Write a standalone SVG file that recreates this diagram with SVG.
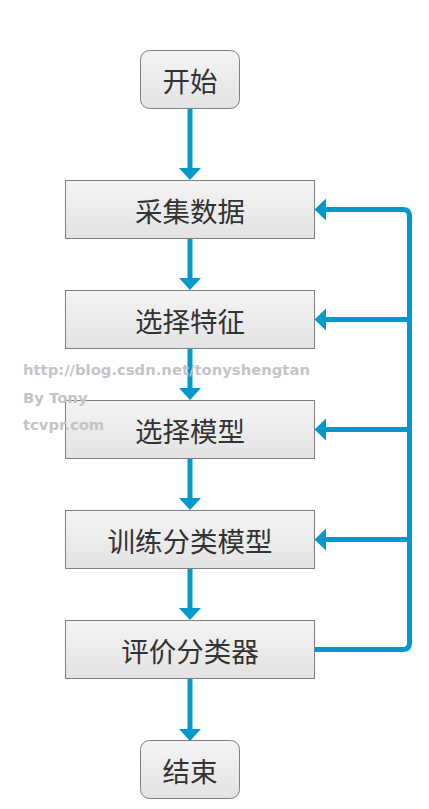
<svg xmlns="http://www.w3.org/2000/svg" width="429" height="809" viewBox="0 0 429 809">
<defs>
<linearGradient id="g" x1="0" y1="0" x2="0" y2="1"><stop offset="0" stop-color="#f4f4f4"/><stop offset="1" stop-color="#e3e3e3"/></linearGradient>
<style>
.n{fill:url(#g);stroke:#7f7f7f;stroke-width:1}
.t{font-family:"Noto Sans CJK SC","Microsoft YaHei",sans-serif;font-size:27.5px;fill:#333;text-anchor:middle;dominant-baseline:central}
.c{fill:none;stroke:#0099cc;stroke-width:5}
.a{fill:#0099cc}
.w{font-family:"DejaVu Sans","Liberation Sans",sans-serif;font-weight:bold;font-size:14.8px;fill:#c4c4c4}
</style>
</defs>
<rect width="429" height="809" fill="#fff"/>
<g id="connectors">
<path class="c" d="M190,109 V168"/><path class="a" d="M179,168 H201 L190,180 Z"/>
<path class="c" d="M190,239 V278"/><path class="a" d="M179,278 H201 L190,290 Z"/>
<path class="c" d="M190,349 V388"/><path class="a" d="M179,388 H201 L190,400 Z"/>
<path class="c" d="M190,459 V498"/><path class="a" d="M179,498 H201 L190,510 Z"/>
<path class="c" d="M190,569 V608"/><path class="a" d="M179,608 H201 L190,620 Z"/>
<path class="c" d="M190,679 V729"/><path class="a" d="M179,729 H201 L190,741 Z"/>
<path class="c" d="M315,649.5 H403 Q409.5,649.5 409.5,643 V216 Q409.5,209.5 403,209.5 H326"/>
<path class="c" d="M409.5,319.5 H326 M409.5,429.5 H326 M409.5,539.5 H326"/>
<path class="a" d="M326,198.5 V220.5 L314.5,209.5 Z M326,308.5 V330.5 L314.5,319.5 Z M326,418.5 V440.5 L314.5,429.5 Z M326,528.5 V550.5 L314.5,539.5 Z"/>
</g>
<g id="start"><rect class="n" x="140.5" y="50.5" width="99" height="58" rx="9"/><text class="t" x="190" y="80">开始</text></g>
<g id="n1"><rect class="n" x="65.5" y="180.5" width="249" height="58"/><text class="t" x="190" y="210">采集数据</text></g>
<g id="n2"><rect class="n" x="65.5" y="290.5" width="249" height="58"/><text class="t" x="190" y="320">选择特征</text></g>
<g id="n3"><rect class="n" x="65.5" y="400.5" width="249" height="58"/><text class="t" x="190" y="430">选择模型</text></g>
<g id="n4"><rect class="n" x="65.5" y="510.5" width="249" height="58"/><text class="t" x="190" y="540">训练分类模型</text></g>
<g id="n5"><rect class="n" x="65.5" y="620.5" width="249" height="58"/><text class="t" x="190" y="650">评价分类器</text></g>
<g id="end"><rect class="n" x="140.5" y="740.5" width="99" height="58" rx="9"/><text class="t" x="190" y="770">结束</text></g>
<g id="watermark">
<text class="w" x="23" y="375">http://blog.csdn.net/tonyshengtan</text>
<text class="w" x="23" y="403">By Tony</text>
<text class="w" x="23" y="430">tcvpr.com</text>
</g>
</svg>
